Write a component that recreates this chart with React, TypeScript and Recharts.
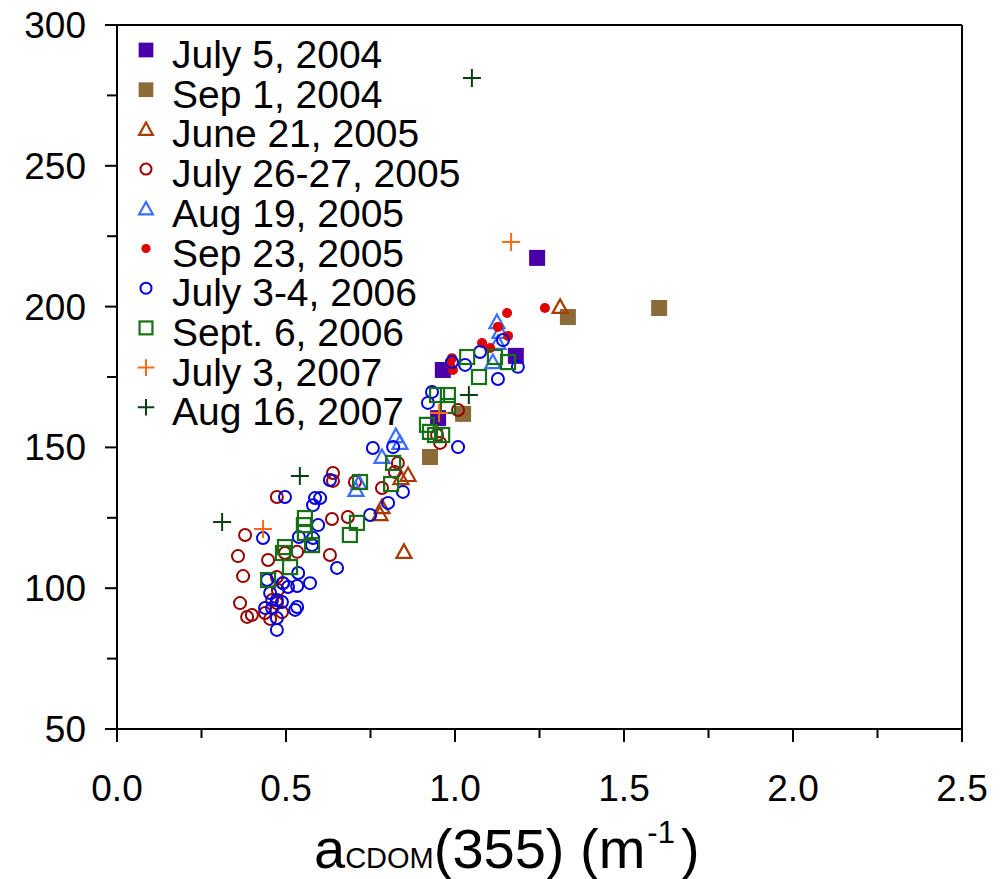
import React from 'react';
import { ScatterChart, Scatter, XAxis, YAxis, ReferenceLine, Legend } from 'recharts';

type Pt = { x: number; y: number };

// ---- data (a_CDOM(355) in m^-1 vs y value) ----
const july5_2004: Pt[] = [
  { x: 1.243, y: 217.3 }, { x: 1.18, y: 182.5 }, { x: 0.964, y: 177.5 }, { x: 0.95, y: 160.4 },
];
const sep1_2004: Pt[] = [
  { x: 1.604, y: 199.5 }, { x: 1.334, y: 196.3 }, { x: 1.024, y: 161.9 }, { x: 0.926, y: 146.6 },
];
const june21_2005: Pt[] = [
  { x: 1.311, y: 199.9 }, { x: 0.849, y: 112.9 }, { x: 0.861, y: 140.2 }, { x: 0.84, y: 139.1 },
  { x: 0.784, y: 128.8 }, { x: 0.778, y: 126.3 },
];
const july2627_2005: Pt[] = [
  { x: 0.639, y: 140.9 }, { x: 0.639, y: 138.1 }, { x: 0.473, y: 132.4 }, { x: 0.704, y: 137.7 },
  { x: 0.831, y: 144.5 }, { x: 0.822, y: 141.3 }, { x: 0.784, y: 135.6 }, { x: 0.636, y: 124.6 },
  { x: 0.683, y: 125.3 }, { x: 0.379, y: 118.9 }, { x: 0.358, y: 111.4 }, { x: 0.373, y: 104.3 },
  { x: 0.63, y: 111.8 }, { x: 0.533, y: 112.9 }, { x: 0.497, y: 112.5 }, { x: 0.364, y: 94.7 },
  { x: 0.385, y: 89.8 }, { x: 0.399, y: 90.5 }, { x: 0.453, y: 89.1 }, { x: 0.488, y: 91.5 },
  { x: 0.473, y: 104.0 }, { x: 0.491, y: 101.8 }, { x: 0.459, y: 95.8 }, { x: 0.473, y: 94.7 },
  { x: 1.009, y: 163.3 }, { x: 0.956, y: 151.6 }, { x: 0.947, y: 154.4 }, { x: 0.476, y: 99.4 },
  { x: 0.438, y: 91.2 }, { x: 0.447, y: 110.0 },
];
const aug19_2005: Pt[] = [
  { x: 1.124, y: 194.5 }, { x: 1.133, y: 191.0 }, { x: 1.127, y: 187.1 }, { x: 1.112, y: 180.3 },
  { x: 0.825, y: 154.0 }, { x: 0.837, y: 151.6 }, { x: 0.784, y: 146.6 }, { x: 0.716, y: 137.4 },
  { x: 0.707, y: 134.9 },
];
const sep23_2005: Pt[] = [
  { x: 1.266, y: 199.5 }, { x: 1.154, y: 197.7 }, { x: 1.127, y: 192.8 }, { x: 1.157, y: 189.6 },
  { x: 1.08, y: 187.1 }, { x: 1.104, y: 185.3 }, { x: 0.991, y: 181.7 }, { x: 0.994, y: 177.5 },
  { x: 0.985, y: 179.6 },
];
const july34_2006: Pt[] = [
  { x: 1.142, y: 188.1 }, { x: 1.074, y: 183.9 }, { x: 1.03, y: 179.3 }, { x: 0.991, y: 180.3 },
  { x: 1.186, y: 178.6 }, { x: 1.127, y: 174.3 }, { x: 0.932, y: 169.7 }, { x: 0.92, y: 165.8 },
  { x: 1.009, y: 150.1 }, { x: 0.846, y: 134.2 }, { x: 0.757, y: 149.8 }, { x: 0.817, y: 150.1 },
  { x: 0.802, y: 130.3 }, { x: 0.749, y: 126.0 }, { x: 0.63, y: 138.4 }, { x: 0.497, y: 132.4 },
  { x: 0.586, y: 132.0 }, { x: 0.601, y: 132.0 }, { x: 0.58, y: 129.5 }, { x: 0.595, y: 122.4 },
  { x: 0.538, y: 118.2 }, { x: 0.58, y: 117.8 }, { x: 0.577, y: 115.3 }, { x: 0.432, y: 117.8 },
  { x: 0.651, y: 107.2 }, { x: 0.536, y: 105.4 }, { x: 0.571, y: 101.8 }, { x: 0.533, y: 100.8 },
  { x: 0.491, y: 101.8 }, { x: 0.444, y: 102.9 }, { x: 0.453, y: 98.3 }, { x: 0.473, y: 95.8 },
  { x: 0.438, y: 93.0 }, { x: 0.459, y: 93.0 }, { x: 0.533, y: 93.3 }, { x: 0.527, y: 92.3 },
  { x: 0.473, y: 89.4 }, { x: 0.473, y: 85.2 }, { x: 0.488, y: 95.1 }, { x: 0.506, y: 100.4 },
];
const sept6_2006: Pt[] = [
  { x: 1.036, y: 182.1 }, { x: 1.118, y: 182.1 }, { x: 1.157, y: 180.3 }, { x: 1.071, y: 175.0 },
  { x: 0.947, y: 168.6 }, { x: 0.979, y: 168.6 }, { x: 0.979, y: 164.7 }, { x: 0.917, y: 158.0 },
  { x: 0.926, y: 155.5 }, { x: 0.941, y: 154.4 }, { x: 0.962, y: 154.4 }, { x: 0.817, y: 144.5 },
  { x: 0.719, y: 137.7 }, { x: 0.811, y: 137.0 }, { x: 0.71, y: 123.2 }, { x: 0.689, y: 118.9 },
  { x: 0.556, y: 124.9 }, { x: 0.553, y: 122.4 }, { x: 0.556, y: 119.6 }, { x: 0.577, y: 115.3 },
  { x: 0.497, y: 114.6 }, { x: 0.491, y: 112.5 }, { x: 0.512, y: 107.5 }, { x: 0.447, y: 102.9 },
];
const july3_2007: Pt[] = [
  { x: 1.166, y: 222.9 }, { x: 0.953, y: 162.2 }, { x: 0.432, y: 121.0 },
];
const aug16_2007: Pt[] = [
  { x: 1.05, y: 281.2 }, { x: 1.041, y: 168.6 }, { x: 0.541, y: 139.8 }, { x: 0.311, y: 123.5 },
];

const xTicks = [0, 0.25, 0.5, 0.75, 1, 1.25, 1.5, 1.75, 2, 2.25, 2.5];
const yTicks = [50, 75, 100, 125, 150, 175, 200, 225, 250, 275, 300];

type Kind = 'fsq' | 'osq' | 'otri' | 'ocirc' | 'fcirc' | 'plus';

const seriesNames = [
  'July 5, 2004', 'Sep 1, 2004', 'June 21, 2005', 'July 26-27, 2005', 'Aug 19, 2005',
  'Sep 23, 2005', 'July 3-4, 2006', 'Sept. 6, 2006', 'July 3, 2007', 'Aug 16, 2007',
];
const seriesData = [
  july5_2004, sep1_2004, june21_2005, july2627_2005, aug19_2005,
  sep23_2005, july34_2006, sept6_2006, july3_2007, aug16_2007,
];
const seriesKinds: Kind[] = ['fsq', 'fsq', 'otri', 'ocirc', 'otri', 'fcirc', 'ocirc', 'osq', 'plus', 'plus'];
const seriesColors = [
  '#4a00a8', '#8b6b38', '#a83c00', '#990000', '#3a6eff',
  '#e00000', '#0000e0', '#167016', '#ff6a10', '#0a4010',
];

const FONT = '"Liberation Sans", Arial, sans-serif';

function Marker({ kind, color, cx, cy, s = 1 }: { kind: Kind; color: string; cx: number; cy: number; s?: number }) {
  switch (kind) {
    case 'fsq':
      return <rect x={cx - 8 * s} y={cy - 8 * s} width={16 * s} height={16 * s} fill={color} />;
    case 'osq':
      return <rect x={cx - 7 * s} y={cy - 7 * s} width={14 * s} height={14 * s} fill="none" stroke={color} strokeWidth={2.2} />;
    case 'otri':
      return (
        <path
          d={`M${cx},${cy - 7.5 * s} L${cx + 7.5 * s},${cy + 6 * s} L${cx - 7.5 * s},${cy + 6 * s} Z`}
          fill="none"
          stroke={color}
          strokeWidth={2.2}
        />
      );
    case 'ocirc':
      return <circle cx={cx} cy={cy} r={6 * s} fill="none" stroke={color} strokeWidth={2} />;
    case 'fcirc':
      return <circle cx={cx} cy={cy} r={5 * s} fill={color} />;
    case 'plus':
    default:
      return (
        <path d={`M${cx - 9 * s},${cy} H${cx + 9 * s} M${cx},${cy - 9 * s} V${cy + 9 * s}`} stroke={color} strokeWidth={2} fill="none" />
      );
  }
}

const XTick = (props: any) => {
  const { x, y, payload } = props;
  const v = payload.value as number;
  const major = Math.abs(v * 2 - Math.round(v * 2)) < 1e-6;
  return (
    <g>
      <line x1={x} x2={x} y1={y} y2={y + (major ? 13 : 9)} stroke="#000" strokeWidth={2} />
      {major && (
        <text x={x} y={y + 72} textAnchor="middle" fontSize={37} fontFamily={FONT} fill="#000">
          {v.toFixed(1)}
        </text>
      )}
    </g>
  );
};

const YTick = (props: any) => {
  const { x, y, payload } = props;
  const v = payload.value as number;
  const major = v % 50 === 0;
  return (
    <g>
      <line x1={x - (major ? 12 : 10)} x2={x} y1={y} y2={y} stroke="#000" strokeWidth={2} />
      {major && (
        <text x={x - 31} y={y + 13} textAnchor="end" fontSize={37} fontFamily={FONT} fill="#000">
          {v}
        </text>
      )}
    </g>
  );
};

const AxisTitle = () => (
  <text x={314} y={868} textAnchor="start" fontFamily={FONT} fill="#000" fontSize={56}>
    <tspan>a</tspan>
    <tspan fontSize={29}>CDOM</tspan>
    <tspan>(355) (m</tspan>
    <tspan fontSize={31} dy={-25} dx={2}>-1</tspan>
    <tspan dy={25} dx={6}>)</tspan>
  </text>
);

const LegendContent = () => (
  <svg width={460} height={440} style={{ display: 'block' }}>
    {seriesNames.map((name, i) => (
      <g key={name}>
        <Marker kind={seriesKinds[i]} color={seriesColors[i]} cx={146} cy={50 + i * 39.7} s={0.92} />
        <text x={172} y={68 + i * 39.7} fontSize={39} fontFamily={FONT} fill="#000">
          {name}
        </text>
      </g>
    ))}
  </svg>
);

export default function App() {
  return (
    <div style={{ position: 'absolute', left: 0, top: 0, width: 1002, height: 879, background: '#fff' }}>
      <ScatterChart width={1002} height={879} margin={{ top: 25, right: 40, left: 0, bottom: 0 }}>
        <XAxis
          type="number"
          dataKey="x"
          domain={[0, 2.5]}
          ticks={xTicks}
          interval={0}
          height={150}
          tickSize={0}
          tickMargin={0}
          tickLine={false}
          tick={<XTick />}
          axisLine={{ stroke: '#000', strokeWidth: 2 }}
          allowDataOverflow
          label={<AxisTitle />}
        />
        <YAxis
          type="number"
          dataKey="y"
          domain={[50, 300]}
          ticks={yTicks}
          interval={0}
          width={117}
          tickSize={0}
          tickMargin={0}
          tickLine={false}
          tick={<YTick />}
          axisLine={{ stroke: '#000', strokeWidth: 2 }}
          allowDataOverflow
        />
        <ReferenceLine y={300} stroke="#000" strokeWidth={2} />
        <ReferenceLine x={2.5} stroke="#000" strokeWidth={2} />
        <Legend
          layout="vertical"
          align="center"
          verticalAlign="middle"
          wrapperStyle={{ left: 0, top: 0, width: 460, height: 440 }}
          content={<LegendContent />}
        />
        {seriesData.map((d, i) => (
          <Scatter
            key={seriesNames[i]}
            name={seriesNames[i]}
            data={d}
            isAnimationActive={false}
            fill={seriesColors[i]}
            shape={(p: any) => <Marker kind={seriesKinds[i]} color={seriesColors[i]} cx={p.cx} cy={p.cy} />}
          />
        ))}
      </ScatterChart>
    </div>
  );
}
